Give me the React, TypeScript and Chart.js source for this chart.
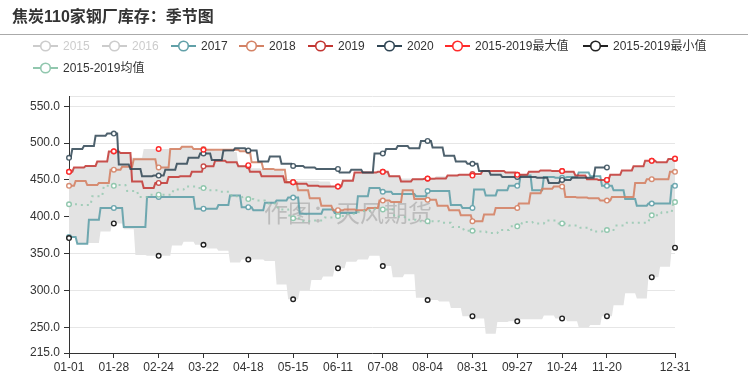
import React, { useEffect, useRef } from "react";
import { Chart, registerables } from "chart.js";

Chart.register(...registerables);

const FONT = "'Liberation Sans', 'Noto Sans CJK SC', sans-serif";
const TITLE = "焦炭110家钢厂库存：季节图";
const WATERMARK = "作图：天风期货";

// axis settings
const AXIS_YEAR = 2020;
const X_TICK_DAYS = [0, 27, 54, 81, 108, 135, 162, 189, 216, 243, 270, 297, 324, 365];
const MARKER_STEP = 27;
const Y_MIN = 215;
const Y_MAX = 564;
const Y_TICKS = [215, 250, 300, 350, 400, 450, 500, 550];

// weekly values (first = value carried into 01-01, then one per Friday)
const S2017 = [372.5, 363.5, 396, 412, 412, 386, 386, 427, 427, 427, 427, 411, 411, 416, 429, 413, 409, 419, 422, 426, 404, 404, 410, 405, 405, 428, 439, 434, 431, 431, 428, 435, 435, 416, 412, 437, 429, 436, 442, 456, 436, 454, 453, 454, 460, 455, 442, 436, 424, 415, 418, 418, 442];
const S2018 = [442, 448.6, 443, 446, 464, 468, 478, 478, 467, 492, 495, 492, 491, 491, 491, 489, 474, 465, 464, 447, 436, 425, 415, 409, 410, 409, 412, 422, 420, 436, 424, 423, 415, 409, 402, 394, 403, 412, 412, 418, 432, 438, 441, 427, 426, 425, 422, 427, 427, 446, 451, 451, 461];
const S2019 = [461, 467, 469, 475, 488.5, 486.5, 448, 439, 446, 454, 455, 461, 468.5, 476, 474, 468.5, 461, 455, 455, 447, 445, 442, 441, 441, 449, 460, 460, 461, 455, 448, 451, 451.5, 452, 456, 457, 458, 462, 462, 460, 457, 461, 463, 462, 461, 456, 451, 450, 457, 463, 468.5, 476, 474, 478.5];
const S2020 = [480, 492, 496, 510, 513, 471, 465, 455, 456, 464, 472, 480, 486, 477, 490, 493, 490, 475, 482, 472, 469, 467, 465, 465, 460, 464, 460, 486, 492, 496, 493, 503, 494, 483, 475, 472, 462, 457, 454, 454, 454, 453, 446, 450, 453, 453, 467, 467];
const S_MAX = [461, 467, 469, 476, 489, 487, 480, 492, 492, 492, 495, 492, 491, 490, 488, 470, 466, 465, 463, 447, 449, 449, 448, 441, 449, 460, 460, 461, 456, 452, 452, 452, 455, 456, 457, 456, 462, 463, 461, 457, 462, 463, 462, 462, 456, 451, 450, 457, 463, 469, 476, 474, 479];
const S_MIN = [371, 363.5, 364.5, 380, 391, 383, 348, 347, 347, 361, 366, 362, 357, 354, 338, 342, 342, 340, 308, 288, 300, 314, 319, 330, 339, 342, 347, 333, 318, 322, 290, 287, 285, 276, 265, 262, 241, 257, 258, 261, 261, 266, 262, 258, 250, 253, 265, 280, 296, 289, 318, 332, 358];
const S_MEAN = [417, 416, 428, 442, 443, 435, 427, 430, 430, 437, 441, 439, 436, 434, 428, 424, 422, 418, 410, 398, 394, 395, 399, 401, 404, 408, 411, 410, 400, 396, 394, 394, 392, 386, 381, 380, 378, 382, 387, 393, 391, 395, 391, 388, 385, 380, 382, 388, 392, 392, 402, 406, 420];

const C2017 = "rgba(97,160,168,0.9)";
const C2018 = "rgba(212,130,101,0.9)";
const C2019 = "rgba(194,53,49,0.85)";
const C2020 = "rgba(47,69,84,0.85)";
const CMEAN = "rgba(145,199,174,0.8)";
const CMAX = "#ff2a2a";
const CMIN = "#222222";
const BAND = "#e3e3e3";

const LEGEND = [
  { name: "2015", color: "#cccccc", text: "#cccccc", left: 33, top: 46 },
  { name: "2016", color: "#cccccc", text: "#cccccc", left: 102, top: 46 },
  { name: "2017", color: "#61a0a8", text: "#333", left: 171, top: 46 },
  { name: "2018", color: "#d48265", text: "#333", left: 239, top: 46 },
  { name: "2019", color: "#c23531", text: "#333", left: 308, top: 46 },
  { name: "2020", color: "#2f4554", text: "#333", left: 377, top: 46 },
  { name: "2015-2019最大值", color: CMAX, text: "#333", left: 445, top: 46 },
  { name: "2015-2019最小值", color: CMIN, text: "#333", left: 583, top: 46 },
  { name: "2015-2019均值", color: "#91c7ae", text: "#333", left: 33, top: 68 },
];

const pad = (n: number) => (n < 10 ? "0" + n : "" + n);
const keyOf = (d: Date) => pad(d.getMonth() + 1) + "-" + pad(d.getDate());

const LABELS: string[] = (() => {
  const out: string[] = [];
  const d = new Date(AXIS_YEAR, 0, 1);
  while (d.getFullYear() === AXIS_YEAR) {
    out.push(keyOf(d));
    d.setDate(d.getDate() + 1);
  }
  return out;
})();
const INDEX_OF = new Map(LABELS.map((l, i) => [l, i] as [string, number]));

function fridays(year: number): number[] {
  const out: number[] = [];
  const d = new Date(year, 0, 1);
  while (d.getDay() !== 5) d.setDate(d.getDate() + 1);
  while (d.getFullYear() === year) {
    const idx = INDEX_OF.get(keyOf(d));
    if (idx !== undefined) out.push(idx);
    d.setDate(d.getDate() + 7);
  }
  return out;
}

function weekly(start: number, count: number): number[] {
  return Array.from({ length: count }, (_, i) => start + 7 * i);
}

function expand(values: number[], changes: number[], lastDay: number): (number | null)[] {
  const out: (number | null)[] = [];
  for (let d = 0; d < LABELS.length; d++) {
    if (d > lastDay) {
      out.push(null);
      continue;
    }
    let k = 0;
    while (k < changes.length && changes[k] <= d) k++;
    out.push(values[Math.min(k, values.length - 1)]);
  }
  return out;
}

const markerRadius = (lastIdx: number) => (ctx: any) => {
  const i = ctx.dataIndex;
  return i % MARKER_STEP === 0 || i === lastIdx ? 2.3 : 0;
};

const watermarkPlugin = {
  id: "watermark",
  beforeDatasetsDraw(chart: any) {
    const ctx = chart.ctx;
    ctx.save();
    ctx.font = "24px 'Noto Sans CJK SC', sans-serif";
    ctx.fillStyle = "rgba(110,110,110,0.33)";
    ctx.textAlign = "center";
    ctx.textBaseline = "middle";
    ctx.fillText(WATERMARK, 348, 213);
    ctx.restore();
  },
};

function LegendIcon({ color }: { color: string }) {
  return (
    <svg width={25} height={14} style={{ display: "block" }}>
      <line x1={0} y1={7} x2={25} y2={7} stroke={color} strokeWidth={2} />
      <circle cx={12.5} cy={7} r={4.8} fill="#fff" stroke={color} strokeWidth={1.6} />
    </svg>
  );
}

export default function App() {
  const ref = useRef<HTMLCanvasElement | null>(null);

  useEffect(() => {
    if (!ref.current) return;
    const last = LABELS.length - 1;
    const line = (label: string, data: (number | null)[], color: string, order: number, lastIdx: number, extra: any = {}) => ({
      label,
      data,
      borderColor: color,
      backgroundColor: color,
      borderWidth: 2,
      pointRadius: markerRadius(lastIdx),
      pointBackgroundColor: "#fff",
      pointBorderColor: color,
      pointBorderWidth: 1.4,
      pointHoverRadius: 0,
      tension: 0,
      fill: false,
      spanGaps: false,
      clip: false,
      order,
      ...extra,
    });

    const chart = new Chart(ref.current, {
      type: "line",
      data: {
        labels: LABELS,
        datasets: [
          line("2017", expand(S2017, fridays(2017), last), C2017, 6, last),
          line("2018", expand(S2018, fridays(2018), last), C2018, 5, last),
          line("2019", expand(S2019, fridays(2019), last), C2019, 4, last),
          line("2020", expand(S2020, fridays(2020), 324), C2020, 3, 324),
          line("2015-2019最大值", expand(S_MAX, fridays(2019), last), "rgba(0,0,0,0)", 2, last, {
            borderWidth: 0,
            pointBorderColor: CMAX,
            fill: "+1",
            backgroundColor: BAND,
          }),
          line("2015-2019最小值", expand(S_MIN, fridays(2017), last), "rgba(0,0,0,0)", 1, last, {
            borderWidth: 0,
            pointBorderColor: CMIN,
          }),
          line("2015-2019均值", expand(S_MEAN, weekly(7, 52), last), CMEAN, 0, last, {
            borderDash: [2, 4],
            pointBorderColor: "#91c7ae",
          }),
        ],
      },
      options: {
        animation: false,
        responsive: false,
        events: [],
        layout: { padding: { top: 96, right: 81, left: 0, bottom: 0 } },
        plugins: {
          legend: { display: false },
          title: { display: false },
          tooltip: { enabled: false },
          filler: { drawTime: "beforeDatasetsDraw", propagate: false },
        },
        scales: {
          x: {
            type: "category",
            offset: false,
            grid: { display: true, drawOnChartArea: false, drawTicks: true, tickLength: 5, tickColor: "#333" },
            border: { color: "#333", width: 1 },
            ticks: {
              autoSkip: false,
              maxRotation: 0,
              minRotation: 0,
              padding: 2,
              color: "#333",
              font: { size: 12, family: FONT },
              callback: (v: any) => LABELS[Number(v)],
            },
            afterBuildTicks: (s: any) => {
              s.ticks = X_TICK_DAYS.map((v) => ({ value: v }));
            },
            afterFit: (s: any) => {
              s.height = 29;
            },
          },
          y: {
            min: Y_MIN,
            max: Y_MAX,
            grid: {
              color: "#e6e6e6",
              tickLength: 5,
              tickColor: (c: any) => (c.tick && c.tick.value === Y_MAX ? "rgba(0,0,0,0)" : "#333"),
            },
            border: { color: "#333", width: 1 },
            ticks: {
              padding: 4,
              color: "#333",
              font: { size: 12, family: FONT },
              callback: (v: any) => (Number(v) === Y_MAX ? "" : Number(v).toFixed(1)),
            },
            afterBuildTicks: (s: any) => {
              s.ticks = [...Y_TICKS, Y_MAX].map((v) => ({ value: v }));
            },
            afterFit: (s: any) => {
              s.width = 69;
            },
          },
        },
      } as any,
      plugins: [watermarkPlugin],
    });
    return () => chart.destroy();
  }, []);

  return (
    <div style={{ position: "absolute", left: 0, top: 0, width: 756, height: 382, background: "#fff", fontFamily: FONT, overflow: "hidden" }}>
      <canvas ref={ref} width={756} height={382} style={{ position: "absolute", left: 0, top: 0, width: 756, height: 382 }} />
      <div style={{ position: "absolute", left: 12, top: 7, fontSize: 16, lineHeight: "20px", fontWeight: "bold", color: "#333", whiteSpace: "nowrap" }}>
        {TITLE}
      </div>
      <div style={{ position: "absolute", left: 0, top: 34, width: 748, height: 1, background: "#aaaaaa" }} />
      {LEGEND.map((it) => (
        <div key={it.name} style={{ position: "absolute", left: it.left, top: it.top - 7, height: 14, display: "flex", alignItems: "center", whiteSpace: "nowrap" }}>
          <LegendIcon color={it.color} />
          <span style={{ marginLeft: 5, fontSize: 12, lineHeight: "14px", color: it.text }}>{it.name}</span>
        </div>
      ))}
    </div>
  );
}
